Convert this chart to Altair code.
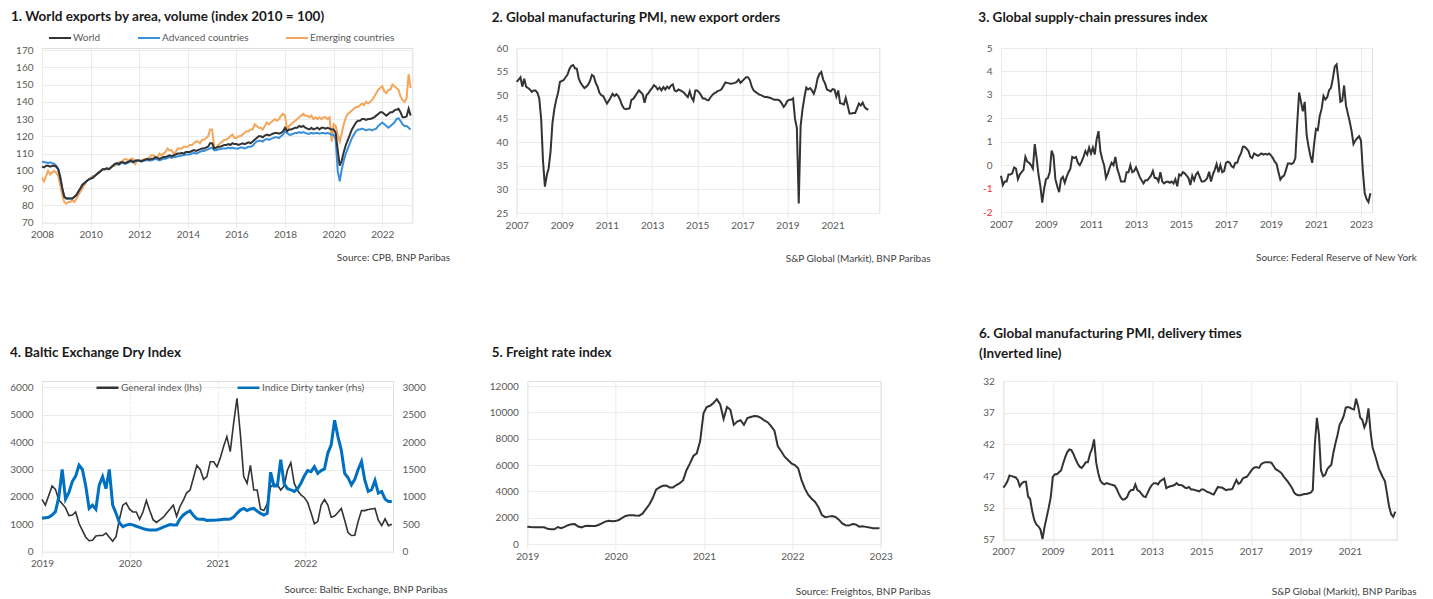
import altair as alt
import pandas as pd

FONT = "Lato"
GRID = "#ebebeb"
LABEL = "#595959"
SRC = "#404040"
TITLE_C = "#1a1a1a"
DARK = "#333333"

# ---------------- data ----------------
# Panel 1 (monthly, Jan 2008 - Mar 2023)
p1_world = [
    102.5, 102, 103, 103, 102.5, 103, 103, 102.5, 101, 96, 90, 85,
    84, 84, 84, 84, 85, 86, 88, 90, 92, 93, 94, 95,
    95.5, 96, 97, 98, 99, 100, 101, 101, 101.5, 101, 102, 103,
    104, 104.5, 104, 105, 105, 104.5, 105, 105.5, 106, 105, 106, 106,
    106, 105.5, 106, 106.5, 107, 106.5, 107, 107, 108, 107.5, 107, 107.5,
    108, 108, 108.5, 109, 108.5, 109, 109.5, 110, 110, 110.5, 110, 111,
    111, 111, 111.5, 112, 111.5, 112, 112.5, 113, 113, 113.5, 114, 116,
    116, 113, 113.5, 114, 114, 114.5, 115, 115, 115.5, 115, 116, 115.5,
    115.5, 115, 115.5, 116, 115.5, 116, 116.5, 116, 117, 118, 119, 120,
    120, 119.5, 120.5, 121, 120.5, 121, 121.5, 122, 122, 121.5, 122, 123,
    125, 123, 124, 124, 124.5, 125, 125, 126, 125.5, 126, 125, 124.5,
    124, 125, 124, 124.5, 125, 124, 125, 125, 124.5, 125, 124.5, 124,
    124, 122, 112, 103, 106, 111, 115, 118, 121, 124, 126, 128,
    129, 129, 130, 130, 129.5, 130, 130, 130.5, 131, 132, 133, 134,
    134, 133, 132, 133, 134, 134, 135, 135.5, 136, 134, 131, 131,
    131.5, 136, 132]
p1_advanced = [
    105.5, 105, 105, 104.5, 105, 104.5, 104, 103, 101, 97, 90, 85,
    84, 84, 84, 84, 85, 86, 88, 90, 92, 93, 94, 95,
    95.5, 96, 97, 98, 99, 100, 101, 101, 101.5, 101, 102, 103,
    104, 104, 103.5, 104.5, 104.5, 104, 104.5, 105, 105.5, 105, 105.5, 106,
    106, 105.5, 106, 106, 106.5, 106, 106, 106.5, 107, 106.5, 106, 106.5,
    107, 107, 107.5, 108, 107.5, 108, 108, 108.5, 108.5, 109, 109, 109.5,
    109.5, 109.5, 110, 110.5, 110, 110.5, 111, 111.5, 111.5, 112, 112.5, 113,
    113.5, 112, 112, 112.5, 112.5, 113, 113, 113, 113.5, 113, 113.5, 113,
    113, 113, 113.5, 113.5, 113, 113.5, 114, 114, 114.5, 116, 117, 117.5,
    117.5, 117, 118, 118.5, 118, 118.5, 119, 119.5, 119.5, 119, 120, 121,
    123, 122, 121, 121, 121.5, 122, 122, 122.5, 122, 122.5, 122, 121.5,
    121.5, 122, 121.5, 122, 122, 121.5, 122, 122, 121.5, 122, 121.5, 121,
    121, 118, 100, 94, 101, 106, 110, 113, 116, 119, 121, 123,
    124, 124, 124.5, 124, 123.5, 124, 124, 123.5, 124, 124.5, 126, 127,
    128, 127, 126, 125, 126, 127, 128, 130, 130.5, 129, 127, 126,
    126, 125, 124]
p1_emerging = [
    96, 94, 97, 100, 98, 99, 100, 99, 97, 92, 86, 82,
    81, 82, 82, 83, 82, 84, 86, 88, 90, 92, 94, 95,
    96, 97, 97, 98, 99, 100, 101, 101, 101, 101, 102, 103,
    103, 104, 105, 105, 106, 107, 106.5, 106, 107, 107, 104, 106,
    106, 106, 106.5, 107, 106, 108, 109, 109, 108, 108, 110, 109,
    110, 111, 113, 112, 112, 110, 111, 113, 113, 113, 114, 114,
    114, 115, 115, 116, 117, 117, 116, 118, 118, 119, 120, 124,
    124, 114, 113, 115, 116, 117, 118, 118, 119, 120, 121, 119,
    119, 120, 120, 121, 122, 123, 123, 124, 124, 127, 126, 125,
    125, 124, 126, 128, 127, 128, 129, 130, 129, 130, 132, 133,
    132, 124, 126, 127, 128, 129, 130, 131, 132, 133, 132, 132,
    131, 132, 130, 131, 130, 131, 130, 131, 131, 130, 131, 117,
    127, 126, 121, 117, 122, 127, 131, 133, 134, 135, 136, 137,
    137, 138, 139, 138, 140, 139, 140, 141, 143, 145, 147, 148,
    149, 146, 145, 147, 147, 150, 149, 148, 147, 143, 141, 140,
    142, 156, 148]
p1_series = ["World", "Advanced countries", "Emerging countries"]
p1_colors = ["#333333", "#3a8fdd", "#f5a65b"]

# Panel 2 (monthly from Jan 2007)
p2_values = [
    52.8, 53.3, 53.8, 51.8, 53.5, 51.8, 51.5, 51.2, 50.7, 51, 51, 50.5,
    49.3, 45, 36, 30.6, 33, 34.5, 38, 44, 47, 49, 50.5, 52.8,
    53, 53.2, 53.8, 54.3, 55.5, 56.2, 56.4, 55.7, 55.6, 53.5, 52.6, 52,
    51.5, 51.8, 52.2, 53, 54.3, 54, 52.6, 51.8, 50.5, 50, 49.8, 49,
    48.2, 48.8, 49.5, 50.3, 49.8, 50.2, 49.8, 49, 47.9, 47.2, 47, 47.1,
    47.2, 49, 49.2, 49.8, 50.4, 51, 50.6, 50.2, 48.4, 50, 50.4, 51,
    51.5, 52.1, 51.8, 51.2, 51.6, 51, 51.7, 51.2, 51.8, 51.4, 52, 52.3,
    51, 50.8, 51.2, 51, 50.8, 50.5, 50, 49.6, 50.8, 49.5, 48.8, 51,
    51, 50.6, 50, 49.3, 49.3, 49, 48.9, 49.5, 50, 50.4, 50.6, 50.9,
    51, 51.3, 52, 52.7, 52.6, 52.5, 52.4, 52.5, 52.6, 52.8, 53.3, 52.6,
    53, 53.4, 53.8, 53.8, 53.2, 51.8, 51, 50.7, 50.4, 50.1, 50, 49.8,
    49.6, 49.6, 49.5, 49.4, 49.2, 49, 49, 49, 48.8, 48.2, 47.5, 48,
    48.8, 49, 49, 49.3, 45, 43, 27, 43.5, 47, 49.5, 51.6, 51.2,
    51.5, 51, 50.3, 51.5, 53.5, 54.5, 54.9, 53.3, 52.5, 51.2, 51, 50.8,
    51.3, 51.2, 49.7, 51, 48.3, 48.2, 48, 49.4, 47.8, 46.1, 46.1, 46.2,
    46.2, 47.2, 48.2, 47.8, 48.4, 47.5, 47.1, 46.9]

# Panel 3 (monthly from Jan 2007)
p3_values = [
    -0.45, -0.85, -0.7, -0.7, -0.4, -0.4, -0.35, -0.1, -0.15, -0.6, -0.4, -0.3,
    -0.2, 0.35, 0.15, 0.1, 0.0, -0.15, 0.9, 0.3, -0.4, -0.9, -1.6, -1.0,
    -0.6, -0.55, -0.3, 0.62, 0.4, -0.6, -0.9, -1.15, -0.6, -0.5, -0.75, -0.5,
    -0.3, -0.15, 0.35, 0.3, 0.35, 0.1, 0.0, 0.15, 0.35, 0.6, 0.45, 0.75,
    0.5, 0.75, 0.45, 1.1, 1.45, 0.6, 0.25, 0.0, -0.55, -0.35, -0.1, 0.1,
    0.0, 0.35, -0.15, -0.4, -0.7, -0.7, -0.7, -0.3, -0.3, 0.0, -0.3, -0.25,
    -0.1, -0.3, -0.5, -0.65, -0.78, -0.65, -0.65, -0.55, -0.45, -0.25, -0.55, -0.55,
    -0.7, -0.3, -0.7, -0.78, -0.72, -0.7, -0.75, -0.7, -0.78, -0.6, -0.9, -0.4,
    -0.45, -0.3, -0.35, -0.45, -0.55, -0.85, -0.45, -0.65, -0.4, -0.3, -0.5, -0.7,
    -0.7, -0.65, -0.55, -0.28, -0.7, -0.4, -0.2, 0.05, -0.3, 0.0, -0.3, -0.25,
    0.1, 0.15, 0.1, -0.05, -0.1, 0.1, 0.1, 0.35, 0.5, 0.78, 0.78, 0.7,
    0.6, 0.35, 0.3, 0.5, 0.45, 0.4, 0.45, 0.5, 0.45, 0.48, 0.45, 0.5,
    0.42, 0.3, 0.15, 0.05, -0.3, -0.62, -0.5, -0.45, -0.2, 0.07, 0.07, 0.05,
    0.1, 0.3, 1.8, 3.1, 2.7, 2.3, 2.7, 1.3, 0.8, 0.4, 0.1, 0.9,
    1.55, 1.5, 2.1, 2.4, 2.95, 2.8, 2.9, 3.2, 3.3, 3.7, 4.2, 4.3,
    3.6, 2.7, 2.75, 3.4, 2.55, 2.2, 1.85, 1.45, 0.9, 1.05, 1.15, 1.23,
    1.05, -0.25, -1.2, -1.45, -1.58, -1.2]

# Panel 4 (fortnightly from Jan 2019)
p4_general = [
    1910, 1700, 2050, 2400, 2275, 1885, 1750, 1600, 1320, 1340,
    1450, 1030, 780, 530, 400, 420, 570, 590, 590, 680,
    530, 380, 550, 1180, 1700, 1780, 1550, 1450, 1450, 1180,
    1450, 1870, 1500, 1170, 1070, 1160, 1250, 1400, 1550, 1700,
    1290, 1650, 1880, 2150, 2250, 2700, 3150, 3000, 2640, 2740,
    3285, 3285, 3100, 3405, 3830, 4200, 3650, 4685, 5600, 4300,
    2740, 2500, 3150, 2250, 2250, 1550, 1500, 1750, 2370, 2450,
    2450, 2250, 2400, 2980, 3250, 2500, 2230, 2070, 1980, 1800,
    1420, 1020, 1100, 1700, 1900, 1700, 1260, 1300, 1430, 1580,
    1150, 700, 590, 600, 1100, 1500, 1500, 1540, 1560, 1580,
    1150, 950, 1200, 950, 1000]
p4_tanker = [
    610, 620, 627, 670, 730, 1000, 1500, 960, 1080, 1280,
    1380, 1580, 1500, 1200, 790, 850, 775, 1215, 1370, 1150,
    1500, 850, 700, 530, 456, 485, 500, 490, 465, 445,
    420, 405, 396, 396, 398, 420, 450, 470, 495, 487,
    487, 600, 670, 715, 745, 660, 600, 590, 590, 570,
    575, 575, 578, 585, 590, 590, 595, 630, 700, 760,
    790, 750, 780, 790, 740, 700, 670, 700, 1450, 1200,
    1200, 1680, 1240, 1150, 1130, 1100, 1150, 1250, 1380, 1480,
    1460, 1550, 1430, 1480, 1510, 1800, 1950, 2400, 2100, 1850,
    1430, 1350, 1220, 1320, 1500, 1645, 1300, 1100, 1130, 1300,
    1070, 1100, 960, 915, 915]
p4_series = ["General index (lhs)", "Indice Dirty tanker (rhs)"]
p4_colors = ["#333333", "#0070c0"]

# Panel 5 (fortnightly from Jan 2019)
p5_values = [
    1316, 1290, 1280, 1266, 1266, 1266, 1150, 1114, 1114, 1290,
    1200, 1300, 1430, 1500, 1510, 1330, 1266, 1367, 1390, 1367,
    1367, 1443, 1560, 1700, 1770, 1720, 1740, 1820, 1980, 2130,
    2177, 2177, 2160, 2150, 2300, 2650, 3000, 3468, 4120, 4300,
    4420, 4450, 4300, 4300, 4480, 4620, 4850, 5620, 6127, 6683,
    6886, 7800, 9924, 10400, 10500, 10700, 11000, 10600, 9500, 10400,
    10200, 9050, 9300, 9400, 9050, 9560, 9640, 9722, 9700, 9580,
    9380, 9250, 8950, 8600, 7420, 7050, 6633, 6380, 6127, 6000,
    5747, 4850, 4200, 3720, 3440, 3190, 2800, 2200, 2040, 2080,
    2120, 2050, 1850, 1560, 1430, 1400, 1510, 1480, 1316, 1340,
    1300, 1260, 1190, 1190, 1190]

# Panel 6 (monthly from Jan 2007, plotted on an inverted axis)
p6_values = [
    48.8, 48.4, 47.8, 46.9, 47.0, 47.1, 47.2, 47.6, 48.6, 48.1, 47.9, 47.9,
    50.2, 50.6, 52.5, 53.9, 54.6, 54.9, 55.4, 56.9, 55.0, 53.5, 52.0, 50.3,
    47.1, 46.7, 46.7, 46.4, 46.1, 45.0, 44.0, 43.2, 42.8, 42.9, 43.5, 44.3,
    45.0, 45.5, 45.7, 45.3, 44.8, 44.8, 43.5, 42.7, 41.2, 44.8, 46.5, 47.7,
    48.1, 48.3, 48.1, 48.2, 48.3, 48.4, 48.5, 49.0, 49.8, 50.4, 50.7, 50.6,
    50.3, 49.5, 49.2, 49.2, 48.3, 49.2, 49.4, 49.8, 50.2, 50.3, 49.6, 48.9,
    48.4, 48.1, 48.1, 48.3, 47.8, 47.6, 47.4, 48.9, 48.7, 48.6, 48.5, 48.4,
    48.1, 48.4, 48.4, 48.5, 48.8, 48.9, 48.7, 49.1, 49.1, 49.2, 49.3, 49.4,
    49.1, 49.1, 49.3, 49.5, 49.6, 49.8, 49.9, 49.3, 48.7, 48.8, 48.8, 49.0,
    49.2, 49.1, 49.1, 49.0, 48.3, 47.6, 48.2, 48.0, 47.4, 47.2, 47.1, 46.7,
    46.2, 45.8, 45.6, 45.6, 45.7, 45.1, 44.9, 44.8, 44.8, 44.8, 44.9, 45.4,
    45.9, 46.1, 46.3, 46.6, 47.1, 47.5, 47.9, 48.4, 48.9, 49.6, 49.9, 50.0,
    50.0, 49.9, 49.8, 49.8, 49.7, 49.6, 49.2, 42.0, 37.8, 40.5, 46.1, 47.0,
    46.8, 45.9, 45.5, 45.2, 43.3, 41.8, 40.5, 38.9, 38.3, 37.5, 36.2, 36.1,
    36.2, 36.4, 36.5, 34.8, 36.0, 37.8, 38.1, 39.3, 38.5, 36.3, 40.0, 42.5,
    43.5, 44.6, 45.8, 46.5, 47.2, 47.8, 49.8, 51.8, 53.0, 53.4, 52.6]

titles = [
    "1. World exports by area, volume (index 2010 = 100)",
    "2. Global manufacturing PMI, new export orders",
    "3. Global supply-chain pressures index",
    "4. Baltic Exchange Dry Index",
    "5. Freight rate index",
    ["6. Global manufacturing PMI, delivery times", "(Inverted line)"],
]
sources = [
    "Source: CPB, BNP Paribas",
    "S&P Global (Markit), BNP Paribas",
    "Source: Federal Reserve of New York",
    "Source: Baltic Exchange, BNP Paribas",
    "Source: Freightos, BNP Paribas",
    "S&P Global (Markit), BNP Paribas",
]


# ---------------- helpers ----------------
def monthly_x(start_year, n):
    return [start_year + i / 12 for i in range(n)]


def fortnight_x(n):
    d = pd.date_range("2019-01-01", periods=n, freq="14D")
    return list(d.year + (d.dayofyear - 1) / 365.0)


def x_axis(values, source, sx, sy, dash=None):
    kw = dict(values=values, format="d", labelFlush=False, labelOverlap=False,
              grid=True, gridColor=GRID, gridWidth=1, domain=False,
              ticks=True, tickColor=GRID, tickSize=5, labelPadding=2,
              labelColor=LABEL, labelFont=FONT, labelFontSize=10,
              title=source, titleX=sx, titleY=sy, titleAlign="right",
              titleBaseline="middle", titleFont=FONT, titleFontSize=10,
              titleFontWeight="normal", titleColor=SRC)
    if dash:
        kw["gridDash"] = dash
    return alt.Axis(**kw)


def y_axis(values, orient="left", grid=True, label_color=LABEL, label_expr=None):
    kw = dict(values=values, orient=orient, grid=grid, gridColor=GRID, gridWidth=1,
              domain=False, ticks=False, labelPadding=9, labelColor=label_color,
              labelFont=FONT, labelFontSize=10, labelFlush=False,
              labelOverlap=False, title=None, format="d")
    if label_expr:
        kw["labelExpr"] = label_expr
    return alt.Axis(**kw)


def title_params(text, dx, dy):
    return alt.TitleParams(text=text, anchor="start", frame="group", dx=dx, dy=dy,
                           font=FONT, fontSize=13.5, fontWeight="bold",
                           color=TITLE_C, offset=6, lineHeight=19.5)


def legend(lx, ly, stroke_w, pad):
    return alt.Legend(orient="none", legendX=lx, legendY=ly,
                      direction="horizontal", title=None,
                      symbolType="stroke", symbolSize=484,
                      symbolStrokeWidth=stroke_w, labelFont=FONT,
                      labelFontSize=10, labelColor=LABEL,
                      labelOffset=1, columnPadding=pad)


# ---------------- panel 1 ----------------
n1 = len(p1_world)
x1 = monthly_x(2008, n1)
df1 = pd.concat([
    pd.DataFrame({"x": x1, "v": p1_emerging, "s": p1_series[2], "o": 0}),
    pd.DataFrame({"x": x1, "v": p1_advanced, "s": p1_series[1], "o": 1}),
    pd.DataFrame({"x": x1, "v": p1_world, "s": p1_series[0], "o": 2}),
])
W1, H1 = 370.3, 174.7
p1 = alt.Chart(df1).mark_line(strokeWidth=2).encode(
    x=alt.X("x:Q", scale=alt.Scale(domain=[2008, 2023.235], nice=False, zero=False),
            axis=x_axis(list(range(2008, 2023, 2)), sources[0], W1 + 37.3, 34.8)),
    y=alt.Y("v:Q", scale=alt.Scale(domain=[70, 171.16], nice=False, zero=False),
            axis=y_axis(list(range(70, 171, 10)))),
    color=alt.Color("s:N", scale=alt.Scale(domain=p1_series, range=p1_colors),
                    legend=legend(6, -22, 2, 33)),
    detail="o:N",
).properties(width=W1, height=H1, title=title_params(titles[0], -31, 3))

# ---------------- panel 2 ----------------
df2 = pd.DataFrame({"x": monthly_x(2007, len(p2_values)), "v": p2_values})
W2, H2 = 362.6, 165
p2 = alt.Chart(df2).mark_line(strokeWidth=2, color=DARK).encode(
    x=alt.X("x:Q", scale=alt.Scale(domain=[2007, 2023.07], nice=False, zero=False),
            axis=x_axis(list(range(2007, 2022, 2)), sources[1], W2 + 50.7, 45.3)),
    y=alt.Y("v:Q", scale=alt.Scale(domain=[25, 60], nice=False, zero=False),
            axis=y_axis(list(range(25, 61, 5)))),
).properties(width=W2, height=H2, title=title_params(titles[1], -25, -13))

# ---------------- panel 3 ----------------
df3 = pd.DataFrame({"x": monthly_x(2007, len(p3_values)), "v": p3_values})
W3, H3 = 371, 164
p3 = alt.Chart(df3).mark_line(strokeWidth=2, color=DARK).encode(
    x=alt.X("x:Q", scale=alt.Scale(domain=[2007, 2023.49], nice=False, zero=False),
            axis=x_axis(list(range(2007, 2024, 2)), sources[2], W3 + 44.3, 45)),
    y=alt.Y("v:Q", scale=alt.Scale(domain=[-2, 5], nice=False, zero=False),
            axis=y_axis(list(range(-2, 6)),
                        label_color={"condition": {"test": "datum.value < 0", "value": "#ee3030"},
                                     "value": LABEL},
                        label_expr="'' + datum.value")),
).properties(width=W3, height=H3, title=title_params(titles[2], -22.7, -13))

# ---------------- panel 4 ----------------
x4 = fortnight_x(len(p4_general))
df4 = pd.concat([
    pd.DataFrame({"x": x4, "v": p4_general, "s": p4_series[0]}),
    pd.DataFrame({"x": x4, "v": p4_tanker, "s": p4_series[1]}),
])
W4, H4 = 351, 170.7
x4_axis = x_axis([2019, 2020, 2021, 2022], sources[3], W4 + 54, 37.5, dash=[3, 2])
x4_scale = alt.Scale(domain=[2019, 2023], nice=False, zero=False)
color4 = alt.Color("s:N", scale=alt.Scale(domain=p4_series, range=p4_colors),
                   legend=legend(53, -6, 2.5, 30))
base4 = alt.Chart(df4)
l4a = base4.transform_filter(alt.datum.s == p4_series[0]).mark_line(strokeWidth=1.6).encode(
    x=alt.X("x:Q", scale=x4_scale, axis=x4_axis),
    y=alt.Y("v:Q", scale=alt.Scale(domain=[0, 6230], nice=False),
            axis=y_axis(list(range(0, 6001, 1000)))),
    color=color4,
)
l4b = base4.transform_filter(alt.datum.s == p4_series[1]).mark_line(strokeWidth=3).encode(
    x=alt.X("x:Q", scale=x4_scale, axis=x4_axis),
    y=alt.Y("v:Q", scale=alt.Scale(domain=[0, 3115], nice=False),
            axis=y_axis(list(range(0, 3001, 500)), orient="right", grid=False)),
    color=color4,
)
p4 = alt.layer(l4a, l4b).resolve_scale(y="independent").properties(
    width=W4, height=H4, title=title_params(titles[3], -32, -9.3))

# ---------------- panel 5 ----------------
df5 = pd.DataFrame({"x": fortnight_x(len(p5_values)), "v": p5_values})
W5, H5 = 353.4, 163
p5 = alt.Chart(df5).mark_line(strokeWidth=2, color=DARK).encode(
    x=alt.X("x:Q", scale=alt.Scale(domain=[2019, 2023], nice=False, zero=False),
            axis=x_axis([2019, 2020, 2021, 2022, 2023], sources[4], W5 + 49.3, 47.7)),
    y=alt.Y("v:Q", scale=alt.Scale(domain=[0, 12380], nice=False),
            axis=y_axis(list(range(0, 12001, 2000)))),
).properties(width=W5, height=H5, title=title_params(titles[4], -35.6, -16))

# ---------------- panel 6 ----------------
df6 = pd.DataFrame({"x": monthly_x(2007, len(p6_values)), "v": p6_values})
W6, H6 = 393.4, 158.6
p6 = alt.Chart(df6).mark_line(strokeWidth=2, color=DARK).encode(
    x=alt.X("x:Q", scale=alt.Scale(domain=[2007, 2022.89], nice=False, zero=False),
            axis=x_axis(list(range(2007, 2022, 2)), sources[5], W6 + 19.3, 51.4)),
    y=alt.Y("v:Q", scale=alt.Scale(domain=[32, 57], nice=False, zero=False, reverse=True),
            axis=y_axis(list(range(32, 58, 5)))),
).properties(width=W6, height=H6, title=title_params(titles[5], -24.3, -10))

row1 = alt.hconcat(
    p1, alt.hconcat(p2, p3, spacing=46.3).resolve_scale(color="independent"),
    spacing=39.7).resolve_scale(color="independent")
row2 = alt.hconcat(
    p4, alt.hconcat(p5, p6, spacing=47).resolve_scale(color="independent"),
    spacing=40.3).resolve_scale(color="independent")
chart = alt.vconcat(row1, row2, spacing=62).resolve_scale(color="independent").properties(
    padding={"left": 9, "top": 9, "right": 5, "bottom": 5},
    background="white",
).configure_view(strokeWidth=0).configure(font=FONT)

chart.save("out.html", embed_options={"renderer": "svg", "actions": False})
